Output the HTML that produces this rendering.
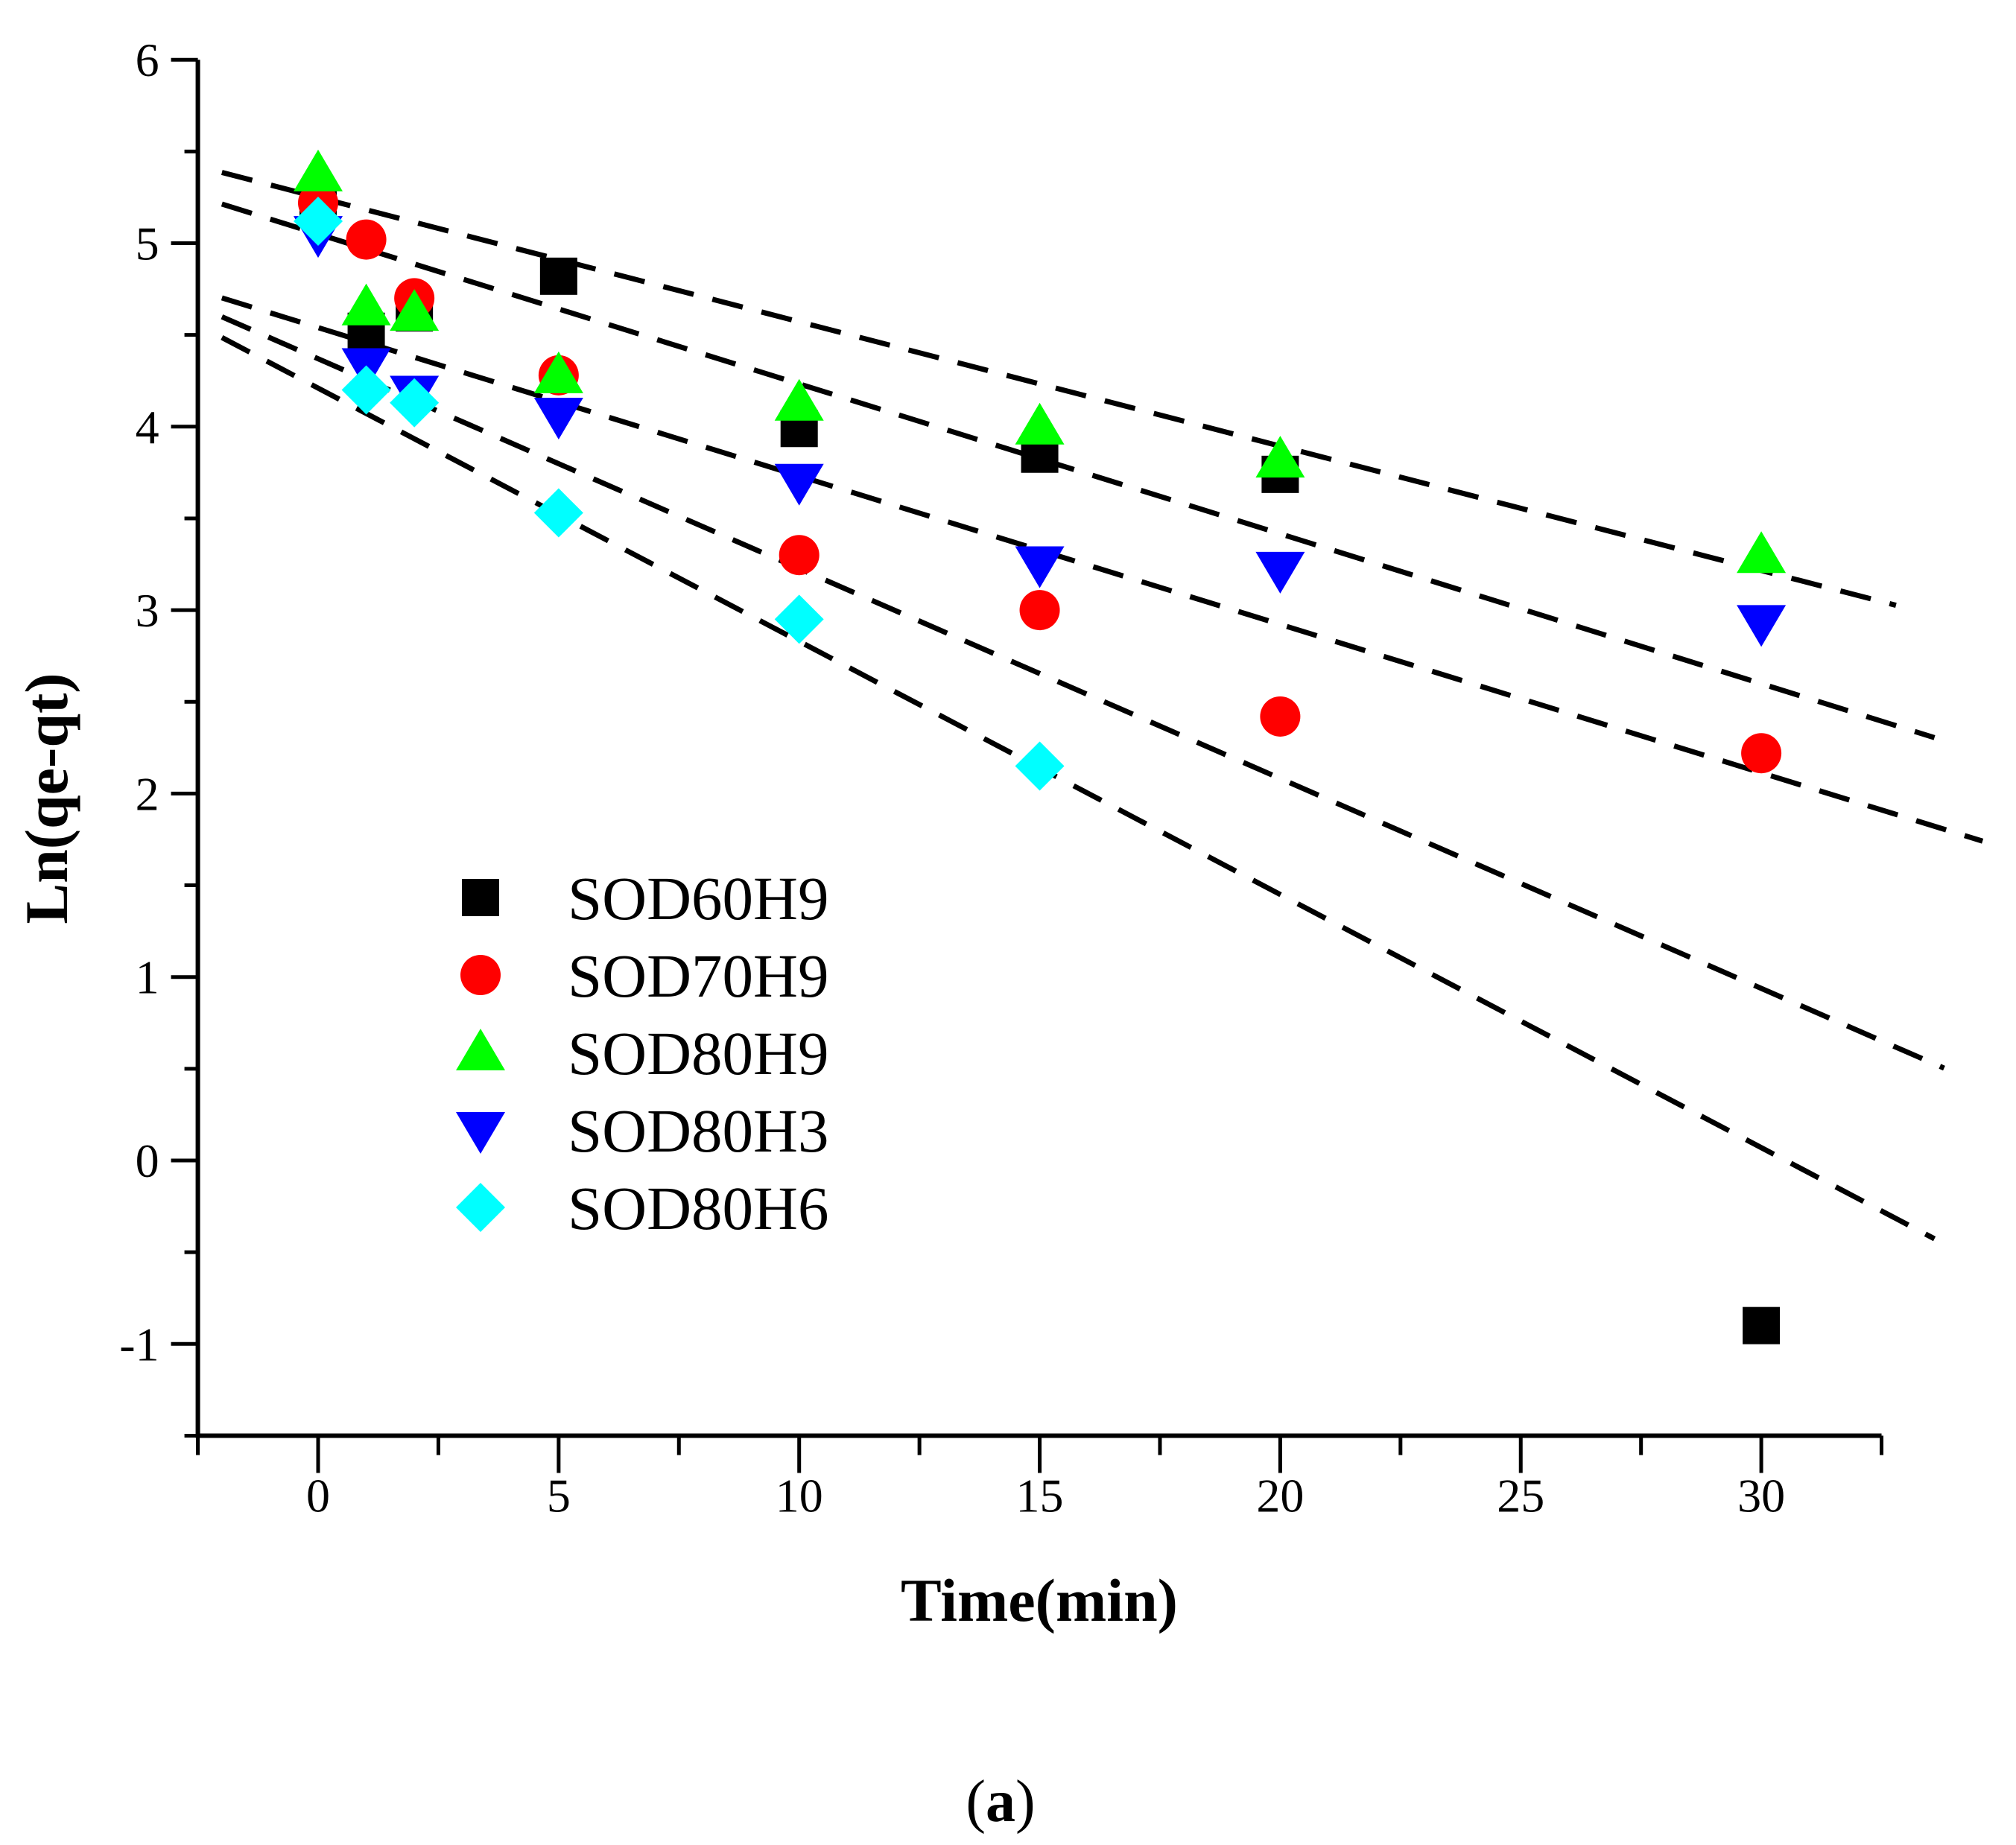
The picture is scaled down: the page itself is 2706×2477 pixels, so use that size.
<!DOCTYPE html>
<html><head><meta charset="utf-8"><style>html,body{margin:0;padding:0;background:#fff}svg{display:block}</style></head>
<body>
<svg id="chart" width="2706" height="2477" viewBox="0 0 2706 2477" xmlns="http://www.w3.org/2000/svg" font-family="Liberation Serif, serif">
<rect width="2706" height="2477" fill="#fff"/>
<g id="plot"></g>
</svg>
<script>
const xTicks=[0,5,10,15,20,25,30];
const yTicks=[-1,0,1,2,3,4,5,6];
const seriesNames=["SOD60H9","SOD70H9","SOD80H9","SOD80H3","SOD80H6"];
const times=[0,1,2,5,10,15,20,30];
const s60h9=[5.2,4.52,4.62,4.82,3.99,3.85,3.74,-0.9];
const s70h9=[5.22,5.02,4.7,4.28,3.3,3.0,2.42,2.22];
const s80h9=[5.38,4.65,4.62,4.28,4.13,4.0,3.82,3.3];
const s80h3=[5.05,4.33,4.18,4.06,3.7,3.25,3.22,2.93];
const s80h6=[5.12,4.2,4.13,3.53,2.95,2.15];
const fitIntercepts=[5.25,5.05,4.54,4.37,4.21];
const fitSlopes=[-0.0678,-0.0817,-0.0809,-0.1144,-0.138];
const fitEnds=[32.8,33.6,34.6,33.8,33.6];

const NS="http://www.w3.org/2000/svg";
const plotG=document.getElementById('plot');
const X0=427,XU=64.57,Y0=1558,YU=246.3;
const sx=v=>X0+v*XU, sy=v=>Y0-v*YU;
function el(t,a,p){const e=document.createElementNS(NS,t);for(const k in a)e.setAttribute(k,a[k]);(p||plotG).appendChild(e);return e;}
const axL=sx(-2.5), axR=sx(32.5), axT=sy(6), axB=sy(-1.5);
fitIntercepts.forEach((b,i)=>{
  const x1=-2,x2=fitEnds[i];
  const l=el('line',{x1:sx(x1),y1:sy(b+fitSlopes[i]*x1),x2:sx(x2),y2:sy(b+fitSlopes[i]*x2),stroke:'#000','stroke-width':7,'stroke-dasharray':'42 26'});
  
  
});
const ax=el('path',{d:`M${axL} ${axT}V${axB}H${axR}`,fill:'none',stroke:'#000','stroke-width':6});


for(let v=-2.5;v<=32.51;v+=2.5){const major=Math.abs(v%5)<1e-6;
  const t=el('line',{x1:sx(v),y1:axB,x2:sx(v),y2:axB+(major?50:26),stroke:'#000','stroke-width':5});
  
  }
xTicks.forEach(v=>{const t=el('text',{x:sx(v),y:axB+102,'font-size':64,'text-anchor':'middle'});t.textContent=v;
  
  });
for(let v=-1.5;v<=6.01;v+=0.5){const major=Math.abs(v-Math.round(v))<1e-6;
  const t=el('line',{x1:axL,y1:sy(v),x2:axL-(major?36:18),y2:sy(v),stroke:'#000','stroke-width':5});
  
  }
yTicks.forEach(v=>{const t=el('text',{x:axL-52,y:sy(v)+22,'font-size':64,'text-anchor':'end'});t.textContent=v;
  
  });
function marker(type,cx,cy){
  let e;
  if(type==0) e=el('rect',{x:cx-25,y:cy-25,width:50,height:50,fill:'#000'});
  else if(type==1) e=el('circle',{cx,cy,r:27,fill:'#f00'});
  else if(type==2) e=el('path',{d:`M${cx} ${cy-32}L${cx+33} ${cy+24}L${cx-33} ${cy+24}Z`,fill:'#0f0'});
  else if(type==3) e=el('path',{d:`M${cx} ${cy+32}L${cx+33} ${cy-24}L${cx-33} ${cy-24}Z`,fill:'#00f'});
  else e=el('path',{d:`M${cx} ${cy-33}L${cx+33} ${cy}L${cx} ${cy+33}L${cx-33} ${cy}Z`,fill:'#0ff'});
  return e;
}
[s60h9,s70h9,s80h9,s80h3,s80h6].forEach((s,i)=>{s.forEach((v,j)=>{
  const m=marker(i,sx(times[j]),sy(v));
  
  });});
seriesNames.forEach((n,i)=>{const y=1205+i*104;
  const m=marker(i,645,y);
  
  
  const t=el('text',{x:762,y:y+29,'font-size':83});t.textContent=n;
  
  });
const yt=el('text',{x:0,y:0,'font-size':82,'font-weight':'bold','text-anchor':'middle',transform:`translate(90 1072) rotate(-90)`});yt.textContent='Ln(qe-qt)';


const xt=el('text',{x:1395,y:2176,'font-size':82,'font-weight':'bold','text-anchor':'middle'});xt.textContent='Time(min)';


const cap=el('text',{x:1343,y:2445,'font-size':80,'text-anchor':'middle'});cap.innerHTML='(<tspan font-weight="bold">a</tspan>)';


</script>
</body></html>
